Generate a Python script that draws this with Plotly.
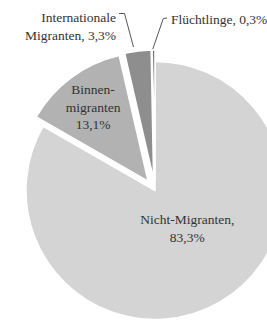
import plotly.graph_objects as go

# Data
categories = ["Nicht-Migranten", "Binnenmigranten", "Internationale Migranten", "Flüchtlinge"]
values = [83.3, 13.1, 3.3, 0.3]
slice_texts = [
    "Nicht-Migranten,<br>83,3%<br> <br> ",
    "Binnen-<br>migranten<br>13,1%",
    "Internationale<br>Migranten, 3,3%",
    "Flüchtlinge, 0,3%",
]

colors = ["#d4d4d4", "#b2b2b2", "#8e8e8e", "#3e3e3e"]
FONT = "Liberation Serif, serif"
TXT = "#333333"

W, H = 300, 335  # page is wider/taller than the window, so the pie is cropped like the reference


def px(x):
    return x / W


def py(y):
    return 1 - y / H


fig = go.Figure(
    go.Pie(
        labels=categories,
        values=values,
        text=slice_texts,
        textinfo="text",
        textposition=["inside", "inside", "none", "none"],
        insidetextorientation="horizontal",
        sort=False,
        direction="clockwise",
        rotation=0,
        pull=[0, 0.09, 0.09, 0.09],
        marker=dict(colors=colors, line=dict(color="white", width=1.5)),
        textfont=dict(family=FONT, size=13.5, color=TXT),
        hoverinfo="label+percent",
        showlegend=False,
        domain=dict(x=[px(14.4), px(295.6)], y=[py(331.1), py(49.9)]),
    )
)

annotations = [
    dict(
        text=slice_texts[2], x=px(118), y=py(26), xref="paper", yref="paper",
        xanchor="right", yanchor="middle", align="right", showarrow=False,
        font=dict(family=FONT, size=13.5, color=TXT),
    ),
    dict(
        text=slice_texts[3], x=px(169), y=py(19), xref="paper", yref="paper",
        xanchor="left", yanchor="middle", align="left", showarrow=False,
        font=dict(family=FONT, size=13.5, color=TXT),
    ),
]

leader = dict(color="#555555", width=1)
shapes = [
    dict(type="path", xref="paper", yref="paper",
         path=f"M {px(119)},{py(13.5)} L {px(124.5)},{py(13.5)} L {px(133.5)},{py(47)}",
         line=leader),
    dict(type="path", xref="paper", yref="paper",
         path=f"M {px(167)},{py(18)} L {px(163.3)},{py(18.5)} L {px(152.8)},{py(49)}",
         line=leader),
]

fig.update_layout(
    width=W,
    height=H,
    margin=dict(l=0, r=0, t=0, b=0),
    paper_bgcolor="white",
    plot_bgcolor="white",
    uniformtext=dict(minsize=13.5, mode="show"),
    annotations=annotations,
    shapes=shapes,
)

fig.write_html(
    "out.html",
    config={"displayModeBar": False},
    post_script="document.documentElement.style.overflow='hidden';document.body.style.overflow='hidden';document.body.style.margin='0';",
)
